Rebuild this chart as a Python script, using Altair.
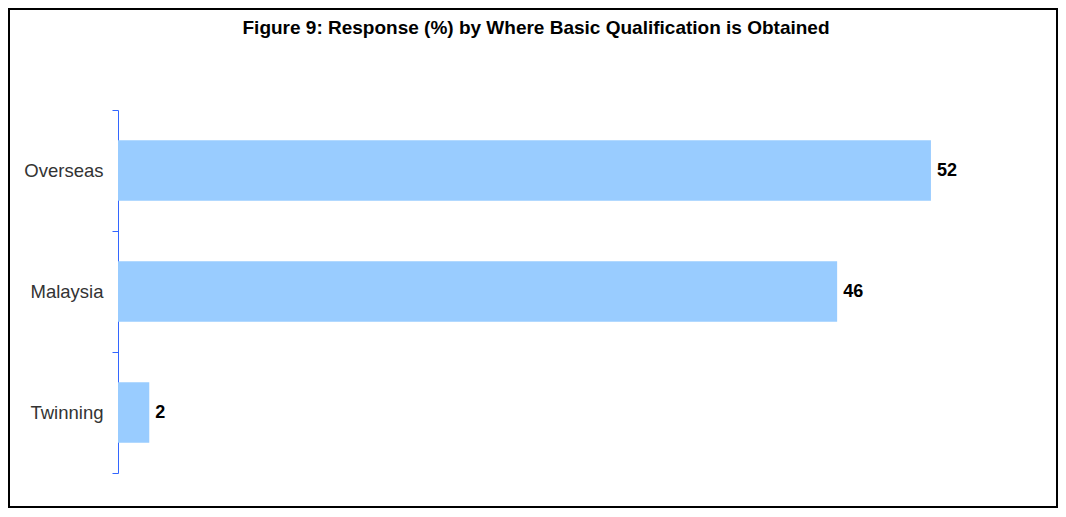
import altair as alt
import pandas as pd

categories = ["Overseas", "Malaysia", "Twinning"]
values = [52, 46, 2]
title_text = "Figure 9: Response (%) by Where Basic Qualification is Obtained"

df = pd.DataFrame({"cat": categories, "val": values})
FONT = "Liberation Sans, Arial, sans-serif"

base = alt.Chart(df)

bars = base.mark_bar(color="#99CCFF", height=alt.RelativeBandSize(0.5)).encode(
    x=alt.X("val:Q", axis=None, scale=alt.Scale(domain=[0, 60])),
    y=alt.Y(
        "cat:N",
        sort=None,
        title=None,
        scale=alt.Scale(paddingInner=0, paddingOuter=0),
        axis=alt.Axis(
            domainColor="#3366FF",
            tickColor="#3366FF",
            tickSize=6,
            tickBand="extent",
            labelPadding=9,
            labelFont=FONT,
            labelFontSize=18.5,
            labelColor="#333333",
            labelFontWeight="normal",
        ),
    ),
)

texts = base.mark_text(
    align="left", baseline="middle", dx=6, font=FONT, fontSize=18,
    fontWeight="bold", color="#000000"
).encode(
    x=alt.X("val:Q"),
    y=alt.Y("cat:N", sort=None),
    text=alt.Text("val:Q"),
)

title = alt.Chart(pd.DataFrame({"t": [title_text]})).mark_text(
    align="center", baseline="middle", font=FONT, fontSize=19,
    fontWeight="bold", color="#000000"
).encode(
    x=alt.value(418),
    y=alt.value(-82),
    text="t:N",
)

border = alt.Chart(pd.DataFrame({"b": [1]})).mark_rect(
    fill=None, fillOpacity=0, stroke="#000000", strokeWidth=2
).encode(
    x=alt.value(-109),
    x2=alt.value(939),
    y=alt.value(-101),
    y2=alt.value(397),
)

chart = alt.layer(bars, texts, title, border).properties(
    width=938,
    height=363,
    padding={"left": 110, "top": 102, "right": 2, "bottom": 35},
    autosize=alt.AutoSizeParams(type="none"),
).configure(background="white").configure_view(strokeWidth=0, stroke="transparent")

chart.save("out.html", embed_options={"renderer": "svg", "actions": False})
